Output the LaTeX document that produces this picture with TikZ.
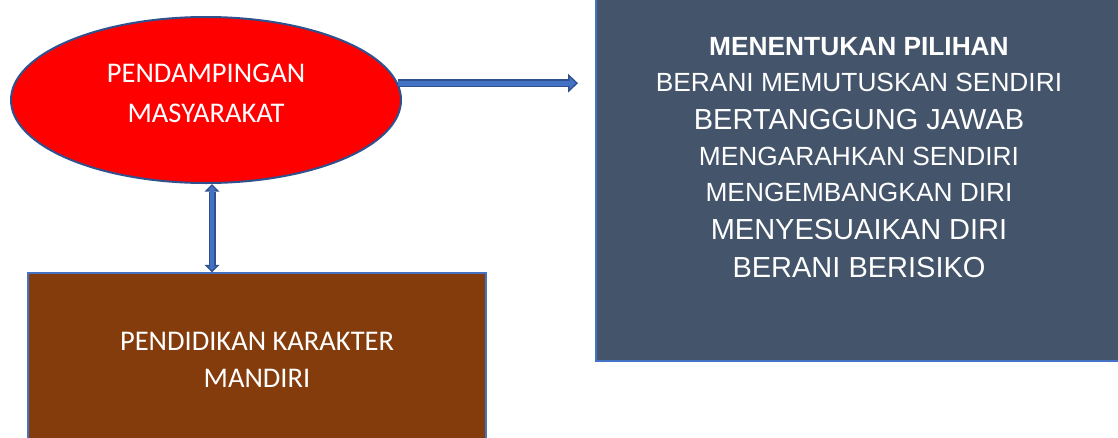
\documentclass[tikz,border=0pt]{standalone}
\usepackage{fontspec}
\setmainfont{Carlito}
\newfontfamily\arialfont{Liberation Sans}
\usepackage{tikz}
\usetikzlibrary{shapes.geometric, positioning, arrows.meta}
\definecolor{outlineblue}{HTML}{2F528F}
\definecolor{fillblue}{HTML}{4472C4}
\definecolor{slate}{HTML}{44546A}
\definecolor{rust}{HTML}{843C0C}
\tikzset{
x=1pt, y=-1pt, % one unit is one pixel, y runs downwards
every node/.style={text=white, align=center}, % all texts are white and centred
bubble/.style={ellipse, draw=outlineblue, line width=2pt, fill=red, minimum width=390pt, minimum height=166pt, inner sep=0pt, text depth=14.4pt, font=\fontsize{28.5}{40}\selectfont}, % the red ellipse
box/.style={rectangle, draw=fillblue, line width=1.5pt, inner sep=0pt}, % the two boxes
pointer/.style={draw=outlineblue, line width=8pt, -{Triangle[length=10pt, width=19pt, line width=0pt]},
  postaction={draw=fillblue, line width=5pt, shorten >=2.2pt, -{Triangle[length=6.3pt, width=12pt, line width=0pt]}}}, % block arrow to the right
twoway/.style={draw=outlineblue, line width=7pt, {Triangle[length=7.5pt, width=15pt, line width=0pt]}-{Triangle[length=7.5pt, width=15pt, line width=0pt]},
  postaction={draw=fillblue, line width=4pt, shorten >=2.1pt, shorten <=2.1pt, {Triangle[length=3.9pt, width=7.8pt, line width=0pt]}-{Triangle[length=3.9pt, width=7.8pt, line width=0pt]}}}, % block arrow both ways
}
\begin{document}
\begin{tikzpicture}
        \useasboundingbox (0,0) rectangle (1118,437);
        \node[bubble] (pend) at (206,100) {PENDAMPINGAN\\MASYARAKAT};
        \node[box, fill=rust, minimum width=458pt, minimum height=173pt, font=\fontsize{28.5}{37}\selectfont] (kar) at (257,359.5) {PENDIDIKAN KARAKTER\\MANDIRI};
        \node[box, fill=slate, minimum width=526pt, minimum height=407pt, font=\arialfont\fontsize{26.3}{36}\selectfont] (pil) at (859,157.6) {%
          {\bfseries MENENTUKAN PILIHAN}\\
          BERANI MEMUTUSKAN SENDIRI\\[2pt]
          {\fontsize{29}{36}\selectfont BERTANGGUNG JAWAB}\\
          MENGARAHKAN SENDIRI\\
          MENGEMBANGKAN DIRI\\[2pt]
          {\fontsize{29}{36}\selectfont MENYESUAIKAN DIRI}\\[2pt]
          {\fontsize{29}{36}\selectfont BERANI BERISIKO}};
        \coordinate (pend tip) at (578,0);
        \draw[pointer] (pend.5) -- (pend.5 -| pend tip);
        \draw[twoway] ([xshift=6pt]pend.south) -- ([xshift=6pt]pend.south |- kar.north);
\end{tikzpicture}
\end{document}
